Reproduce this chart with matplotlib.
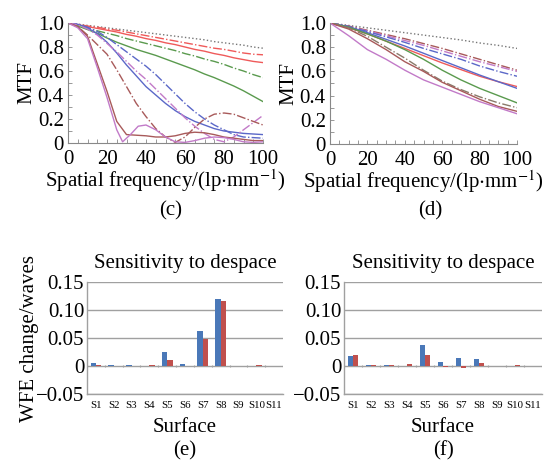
import numpy as np
import matplotlib
matplotlib.use('Agg')
import matplotlib.pyplot as plt

plt.rcParams['font.family'] = ['Liberation Serif', 'DejaVu Serif']
plt.rcParams['mathtext.fontset'] = 'stix'

# ---- MTF data, panel (c) ----
freq = [0, 5, 10, 15, 20, 25, 30, 35, 40, 45, 50, 55, 60, 65, 70, 75, 80, 85, 90, 95, 100]
c_black_dot = [1.0, .99, .98, .97, .96, .95, .94, .93, .92, .91, .90, .89, .88, .87, .86, .845, .835, .825, .815, .80, .79]
c_red_dash = [1.0, .99, .975, .965, .95, .94, .925, .91, .895, .88, .865, .85, .835, .82, .805, .79, .78, .765, .75, .74, .735]
c_red = [1.0, .985, .97, .955, .94, .925, .905, .89, .87, .855, .835, .82, .80, .78, .765, .745, .73, .71, .695, .68, .67]
c_green_dash = [1.0, .98, .955, .935, .915, .895, .87, .85, .83, .81, .79, .77, .745, .725, .70, .68, .655, .625, .60, .57, .545]
c_green = [1.0, .975, .945, .915, .875, .84, .81, .78, .755, .73, .70, .67, .64, .61, .575, .545, .51, .475, .435, .39, .345]
c_blue = [1.0, .99, .96, .91, .84, .75, .65, .56, .47, .40, .33, .27, .22, .18, .15, .12, .10, .09, .08, .075, .07]
c_blue_dash = [1.0, .99, .965, .93, .88, .82, .76, .70, .64, .57, .49, .41, .33, .26, .20, .15, .11, .07, .05, .045, .04]
c_purple_dash = [1.0, .985, .95, .90, .83, .76, .68, .60, .53, .45, .37, .29, .21, .14, .08, .03, .01, .05, .11, .17, .23]
c_brown_dash = [1.0, .97, .90, .82, .74, .61, .47, .33, .22, .12, .05, .005, .05, .13, .20, .24, .25, .24, .21, .18, .15]
c_brown = [1.0, .97, .89, .66, .43, .18, .07, .065, .06, .05, .05, .06, .08, .09, .085, .07, .05, .04, .03, .02, .02]
freq_p = [0, 5, 10, 15, 20, 25, 28, 32, 36, 40, 45, 50, 55, 60, 65, 70, 75, 80, 85, 90, 95, 100]
c_purple = [1.0, .96, .87, .63, .38, .11, .01, .07, .14, .15, .11, .05, .01, .005, .02, .04, .05, .045, .03, .01, .005, .01]

# ---- MTF data, panel (d) ----
freq_d = [0, 10, 20, 30, 40, 50, 60, 70, 80, 90, 100]
d_black_dot = [1.0, .98, .96, .94, .92, .90, .88, .86, .835, .815, .79]
d_brown_dash = [1.0, .975, .94, .905, .87, .83, .79, .745, .70, .655, .61]
d_purple_dash = [1.0, .97, .935, .895, .855, .815, .77, .725, .68, .64, .60]
d_blue_dash = [1.0, .97, .93, .885, .84, .79, .745, .70, .645, .60, .56]
d_blue = [1.0, .97, .92, .865, .81, .75, .69, .63, .57, .515, .46]
d_red = [1.0, .96, .91, .85, .79, .73, .67, .615, .56, .515, .475]
d_green = [1.0, .965, .91, .85, .78, .70, .61, .53, .46, .40, .34]
d_grey_dash = [1.0, .96, .89, .80, .71, .61, .52, .45, .39, .34, .30]
d_brown = [1.0, .95, .87, .78, .68, .60, .51, .44, .37, .31, .27]
d_purple = [1.0, .895, .78, .70, .61, .53, .47, .41, .35, .30, .25]

# ---- despace sensitivity ----
surfaces = ['S1', 'S2', 'S3', 'S4', 'S5', 'S6', 'S7', 'S8', 'S9', 'S10', 'S11']
e_blue = [0.006, 0.002, 0.002, 0.0005, 0.025, 0.004, 0.063, 0.119, 0.0, 0.0, 0.0]
e_red = [0.001, 0.0, 0.0, 0.002, 0.011, 0.0, 0.049, 0.116, 0.0, 0.001, 0.0]
f_blue = [0.017, 0.001, 0.001, 0.0, 0.037, 0.0065, 0.014, 0.013, 0.0, 0.0, 0.0]
f_red = [0.019, 0.002, 0.002, 0.003, 0.020, -0.002, -0.003, 0.005, 0.0, 0.001, 0.0]

RED = '#ef5a5a'
GREEN = '#5a9a4e'
BLUE = '#5b68c8'
PURPLE = '#c27ac8'
BROWN = '#a85a5a'
GREY = '#777777'

W, H = 551, 467
fig = plt.figure(figsize=(W / 100, H / 100), dpi=100)


def px_axes(left, top, right, bottom):
    return fig.add_axes([left / W, 1 - bottom / H, (right - left) / W, (bottom - top) / H])


def mtf_style(ax):
    ax.set_xlim(0, 100)
    ax.set_ylim(0, 1.0)
    for s in ['top', 'right']:
        ax.spines[s].set_visible(False)
    for s in ['left', 'bottom']:
        ax.spines[s].set_color('#888888')
        ax.spines[s].set_linewidth(0.8)
    ax.set_xticks(np.arange(0, 101, 20))
    ax.set_xticks(np.arange(0, 101, 5), minor=True)
    ax.set_yticks(np.arange(0, 1.01, 0.2))
    ax.set_yticks(np.arange(0, 1.01, 0.1), minor=True)
    ax.set_yticklabels(['0', '0.2', '0.4', '0.6', '0.8', '1.0'])
    ax.tick_params(which='both', direction='in', length=3, width=0.6, color='#888888', labelsize=15)
    ax.tick_params(axis='x', pad=5)
    ax.tick_params(axis='y', pad=3)
    ax.set_xlabel(r'Spatial frequency/(lp$\cdot$mm$^{-1}$)', fontsize=15, labelpad=-1)
    ax.set_ylabel('MTF', fontsize=15, labelpad=1)


lw = 1.0
axc = px_axes(68, 23, 263, 143)
axc.plot(freq, c_black_dot, ':', color=GREY, lw=lw)
axc.plot(freq, c_red_dash, '-.', color=RED, lw=lw)
axc.plot(freq, c_red, '-', color=RED, lw=lw)
axc.plot(freq, c_green_dash, '-.', color=GREEN, lw=lw)
axc.plot(freq, c_green, '-', color=GREEN, lw=lw)
axc.plot(freq, c_blue_dash, '-.', color=BLUE, lw=lw)
axc.plot(freq, c_blue, '-', color=BLUE, lw=lw)
axc.plot(freq, c_purple_dash, '-.', color=PURPLE, lw=lw)
axc.plot(freq, c_brown_dash, '-.', color=BROWN, lw=lw)
axc.plot(freq, c_brown, '-', color=BROWN, lw=lw)
axc.plot(freq_p, c_purple, '-', color=PURPLE, lw=lw)
mtf_style(axc)

axd = px_axes(330, 23, 517, 144)
axd.plot(freq_d, d_black_dot, ':', color=GREY, lw=lw)
axd.plot(freq_d, d_brown_dash, '-.', color=BROWN, lw=lw)
axd.plot(freq_d, d_purple_dash, '-.', color=PURPLE, lw=lw)
axd.plot(freq_d, d_blue_dash, '-.', color=BLUE, lw=lw)
axd.plot(freq_d, d_red, '-', color=RED, lw=lw)
axd.plot(freq_d, d_blue, '-', color=BLUE, lw=lw)
axd.plot(freq_d, d_green, '-', color=GREEN, lw=lw)
axd.plot(freq_d, d_grey_dash, '-.', color='#8a7a6a', lw=lw)
axd.plot(freq_d, d_brown, '-', color=BROWN, lw=lw)
axd.plot(freq_d, d_purple, '-', color=PURPLE, lw=lw)
mtf_style(axd)

fig.text(171 / W, 1 - 211 / H, '(c)', ha='center', va='center', fontsize=15)
fig.text(430 / W, 1 - 211 / H, '(d)', ha='center', va='center', fontsize=15)


def bar_panel(ax, blue, red, ylabel):
    x = np.arange(len(surfaces))
    w = 0.3
    ax.bar(x - w / 2, blue, w, color='#4a78b8', zorder=3)
    ax.bar(x + w / 2, red, w, color='#c0504d', zorder=3)
    ax.set_xlim(-0.5, len(surfaces) - 0.5)
    ax.set_ylim(-0.05, 0.15)
    ax.set_yticks([-0.05, 0, 0.05, 0.10, 0.15])
    ax.set_yticklabels(['\u22120.05', '0', '0.05', '0.10', '0.15'])
    ax.yaxis.grid(True, color='#a0a0a0', lw=1.0, zorder=0)
    for s in ['top', 'right']:
        ax.spines[s].set_visible(False)
    for s in ['left', 'bottom']:
        ax.spines[s].set_color('#a0a0a0')
        ax.spines[s].set_linewidth(1.0)
    ax.set_xticks(x)
    ax.set_xticklabels(surfaces, fontsize=7.8)
    ax.tick_params(axis='x', length=0, pad=5)
    ax.tick_params(axis='y', length=0, labelsize=15, pad=2)
    # small category separators on the zero line
    ax.vlines(np.arange(len(surfaces) + 1) - 0.5, -0.002, 0.002, color='#a0a0a0', lw=0.8, zorder=2)
    ax.set_title('Sensitivity to despace', fontsize=15, pad=10)
    ax.set_xlabel('Surface', fontsize=15, labelpad=6)
    if ylabel:
        ax.set_ylabel(ylabel, fontsize=15, labelpad=-2)


axe = px_axes(87, 282, 283, 394)
bar_panel(axe, e_blue, e_red, 'WFE change/waves')
axf = px_axes(344, 282, 542, 394)
bar_panel(axf, f_blue, f_red, None)

fig.text(185 / W, 1 - 451 / H, '(e)', ha='center', va='center', fontsize=15)
fig.text(443 / W, 1 - 451 / H, '(f)', ha='center', va='center', fontsize=15)

fig.savefig('out.png', dpi=100)
